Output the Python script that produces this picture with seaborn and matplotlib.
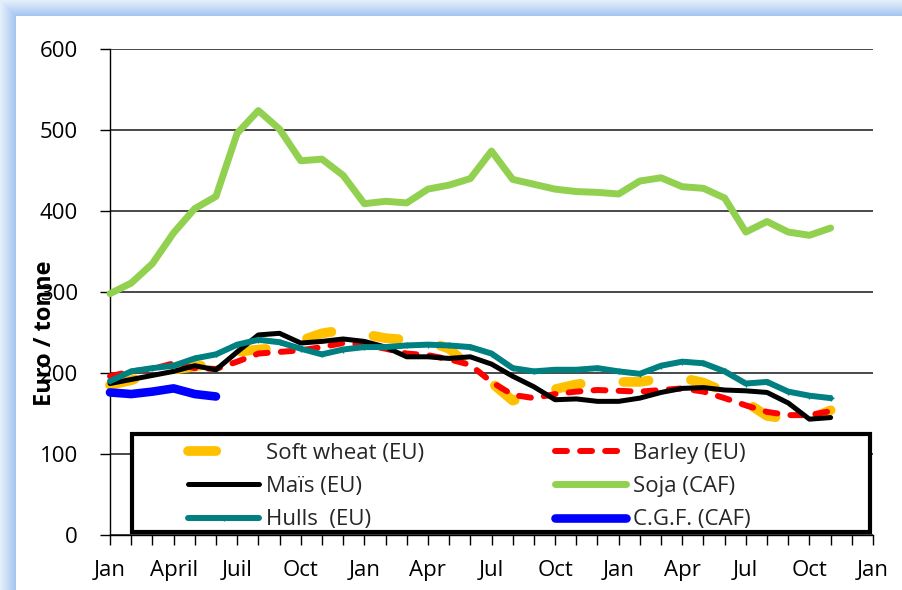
import numpy as np
import pandas as pd
import matplotlib
matplotlib.use("Agg")
import matplotlib.pyplot as plt
import seaborn as sns
from matplotlib.patches import Rectangle
from matplotlib.lines import Line2D

# ---------------- data ----------------
tick_labels = ["Jan", "April", "Juil", "Oct", "Jan", "Apr", "Jul", "Oct",
               "Jan", "Apr", "Jul", "Oct", "Jan"]
series_names = ["Soft wheat (EU)", "Barley (EU)", "Maïs (EU)",
                "Soja (CAF)", "Hulls  (EU)", "C.G.F. (CAF)"]

soft_wheat = [185, 191, 200, 204, 208, 212, 226, 229, 231, 240, 249, 253, 248, 243,
              241, 239, 230, 207, 188, 166, 172, 180, 186, 189, 189, 189, 193, 194,
              188, 177, 164, 147, 143, 143, 154]
barley = [196, 202, 205, 212, 206, 205, 214, 224, 226, 228, 232, 237, 235, 230,
          224, 222, 217, 210, 189, 173, 169, 174, 177, 179, 178, 177, 179, 181,
          177, 169, 160, 152, 148, 148, 153]
mais = [187, 192, 197, 202, 209, 204, 226, 247, 249, 237, 239, 242, 239, 232,
        220, 220, 218, 220, 211, 196, 183, 167, 168, 165, 165, 169, 176, 181,
        182, 179, 178, 176, 163, 143, 145]
soja = [298, 311, 335, 373, 403, 418, 496, 524, 501, 462, 464, 444, 409, 412,
        410, 427, 432, 440, 474, 439, 433, 427, 424, 423, 421, 437, 441, 430,
        428, 416, 374, 387, 374, 370, 379]
hulls = [190, 202, 206, 209, 218, 223, 235, 241, 238, 230, 223, 229, 232, 232,
         234, 235, 234, 232, 224, 206, 202, 204, 204, 206, 202, 199, 209, 214,
         212, 202, 187, 189, 177, 172, 169]
cgf = [176, 174, 177, 181, 174, 171]

# ---------------- style ----------------
sns.set_theme(style="ticks")
plt.rcParams["font.family"] = ["Open Sans", "DejaVu Sans"]
FS = 16

W, H = 902, 590
fig = plt.figure(figsize=(W / 100, H / 100), dpi=100)
fig.patch.set_facecolor("white")

# decorative blue frame (top and left bands)
bg = fig.add_axes([0, 0, 1, 1], zorder=-10)
img = np.ones((H, W, 3))
light = np.array([0.90, 0.94, 0.99])
dark = np.array([0.65, 0.78, 0.94])
band = 16
for i in range(band):
    t = i / (band - 1)
    c = light * (1 - t) + dark * t
    img[i, i:, :] = c
    img[i:, i, :] = c
bg.imshow(img, aspect="auto", extent=(0, 1, 0, 1), interpolation="bilinear")
bg.axis("off")

# plot area
x0, x1, ytop, ybot = 110, 873, 49, 535
ax = fig.add_axes([x0 / W, (H - ybot) / H, (x1 - x0) / W, (ybot - ytop) / H])
ax.set_facecolor("white")

styles = [
    dict(color="#FFC000", linewidth=7.0, linestyle=(0, (2.6, 4.4)),
         dash_capstyle="round", solid_capstyle="round"),
    dict(color="#FF0000", linewidth=4.3, linestyle=(0, (2.0, 2.2)),
         dash_capstyle="round", solid_capstyle="round"),
    dict(color="black", linewidth=3.6, solid_capstyle="round"),
    dict(color="#92D050", linewidth=5.0, solid_capstyle="round"),
    dict(color="#008080", linewidth=4.3, solid_capstyle="round",
         marker="+", markersize=5, markeredgewidth=1.0, markeredgecolor="#008080"),
    dict(color="#0000FF", linewidth=6.2, solid_capstyle="round"),
]
all_values = [soft_wheat, barley, mais, soja, hulls, cgf]

handles = []
for name, vals, st in zip(series_names, all_values, styles):
    df = pd.DataFrame({"month": np.arange(len(vals)), "value": vals})
    sns.lineplot(data=df, x="month", y="value", ax=ax, legend=False,
                 errorbar=None, sort=True, clip_on=False, zorder=3, **st)
    handles.append(ax.lines[-1])

# legend proxy for the long-dash wheat line: a single dash as in the reference
handles[0] = Line2D([], [], color="#FFC000", linewidth=7.0,
                    linestyle=(0, (2.9, 20)), dash_capstyle="round")

# axes formatting
ax.set_xlim(0, 36)
ax.set_ylim(0, 600)
ax.set_xticks(np.arange(0, 37, 3))
ax.set_xticklabels(tick_labels)
ax.set_xticks(np.arange(0, 37, 1), minor=True)
ax.set_yticks(np.arange(0, 601, 100))
ax.set_xlabel("")
ax.set_ylabel("")
ax.grid(axis="y", color="#3a3a3a", linewidth=1.3, zorder=1)
ax.set_axisbelow(True)
for s in ["top", "right"]:
    ax.spines[s].set_visible(False)
for s in ["left", "bottom"]:
    ax.spines[s].set_color("black")
    ax.spines[s].set_linewidth(1.0)
ax.tick_params(axis="x", which="both", direction="out", length=7, width=1,
               color="black", labelsize=FS, labelcolor="black", pad=11)
ax.tick_params(axis="y", which="major", direction="out", length=7, width=1,
               color="black", labelsize=FS, labelcolor="black", pad=16)

ax.text(-0.085, 0.416, "Euro / tonne", transform=ax.transAxes, rotation=90,
        ha="center", va="center", fontsize=17, fontweight="bold", color="black",
        zorder=6, clip_on=False)

# legend box
def axx(px):
    return (px - x0) / (x1 - x0)

def axy(py):
    return (ybot - py) / (ybot - ytop)

box = Rectangle((axx(132), axy(532)), axx(870) - axx(132), axy(434) - axy(532),
                transform=ax.transAxes, facecolor="white", edgecolor="black",
                linewidth=3.0, zorder=4, clip_on=False)
ax.add_patch(box)

leg_kw = dict(frameon=False, loc="upper left", fontsize=FS, borderpad=0,
              handlelength=3.2, handletextpad=0.3, labelspacing=0.55,
              borderaxespad=0)
leg1 = ax.legend([handles[0], handles[2], handles[4]],
                 [series_names[0], series_names[2], series_names[4]],
                 bbox_to_anchor=(axx(188), axy(443)), **leg_kw)
leg1.set_zorder(5)
ax.add_artist(leg1)
leg2 = ax.legend([handles[1], handles[3], handles[5]],
                 [series_names[1], series_names[3], series_names[5]],
                 bbox_to_anchor=(axx(555), axy(443)), **leg_kw)
leg2.set_zorder(5)

fig.savefig("out.png", dpi=100)
